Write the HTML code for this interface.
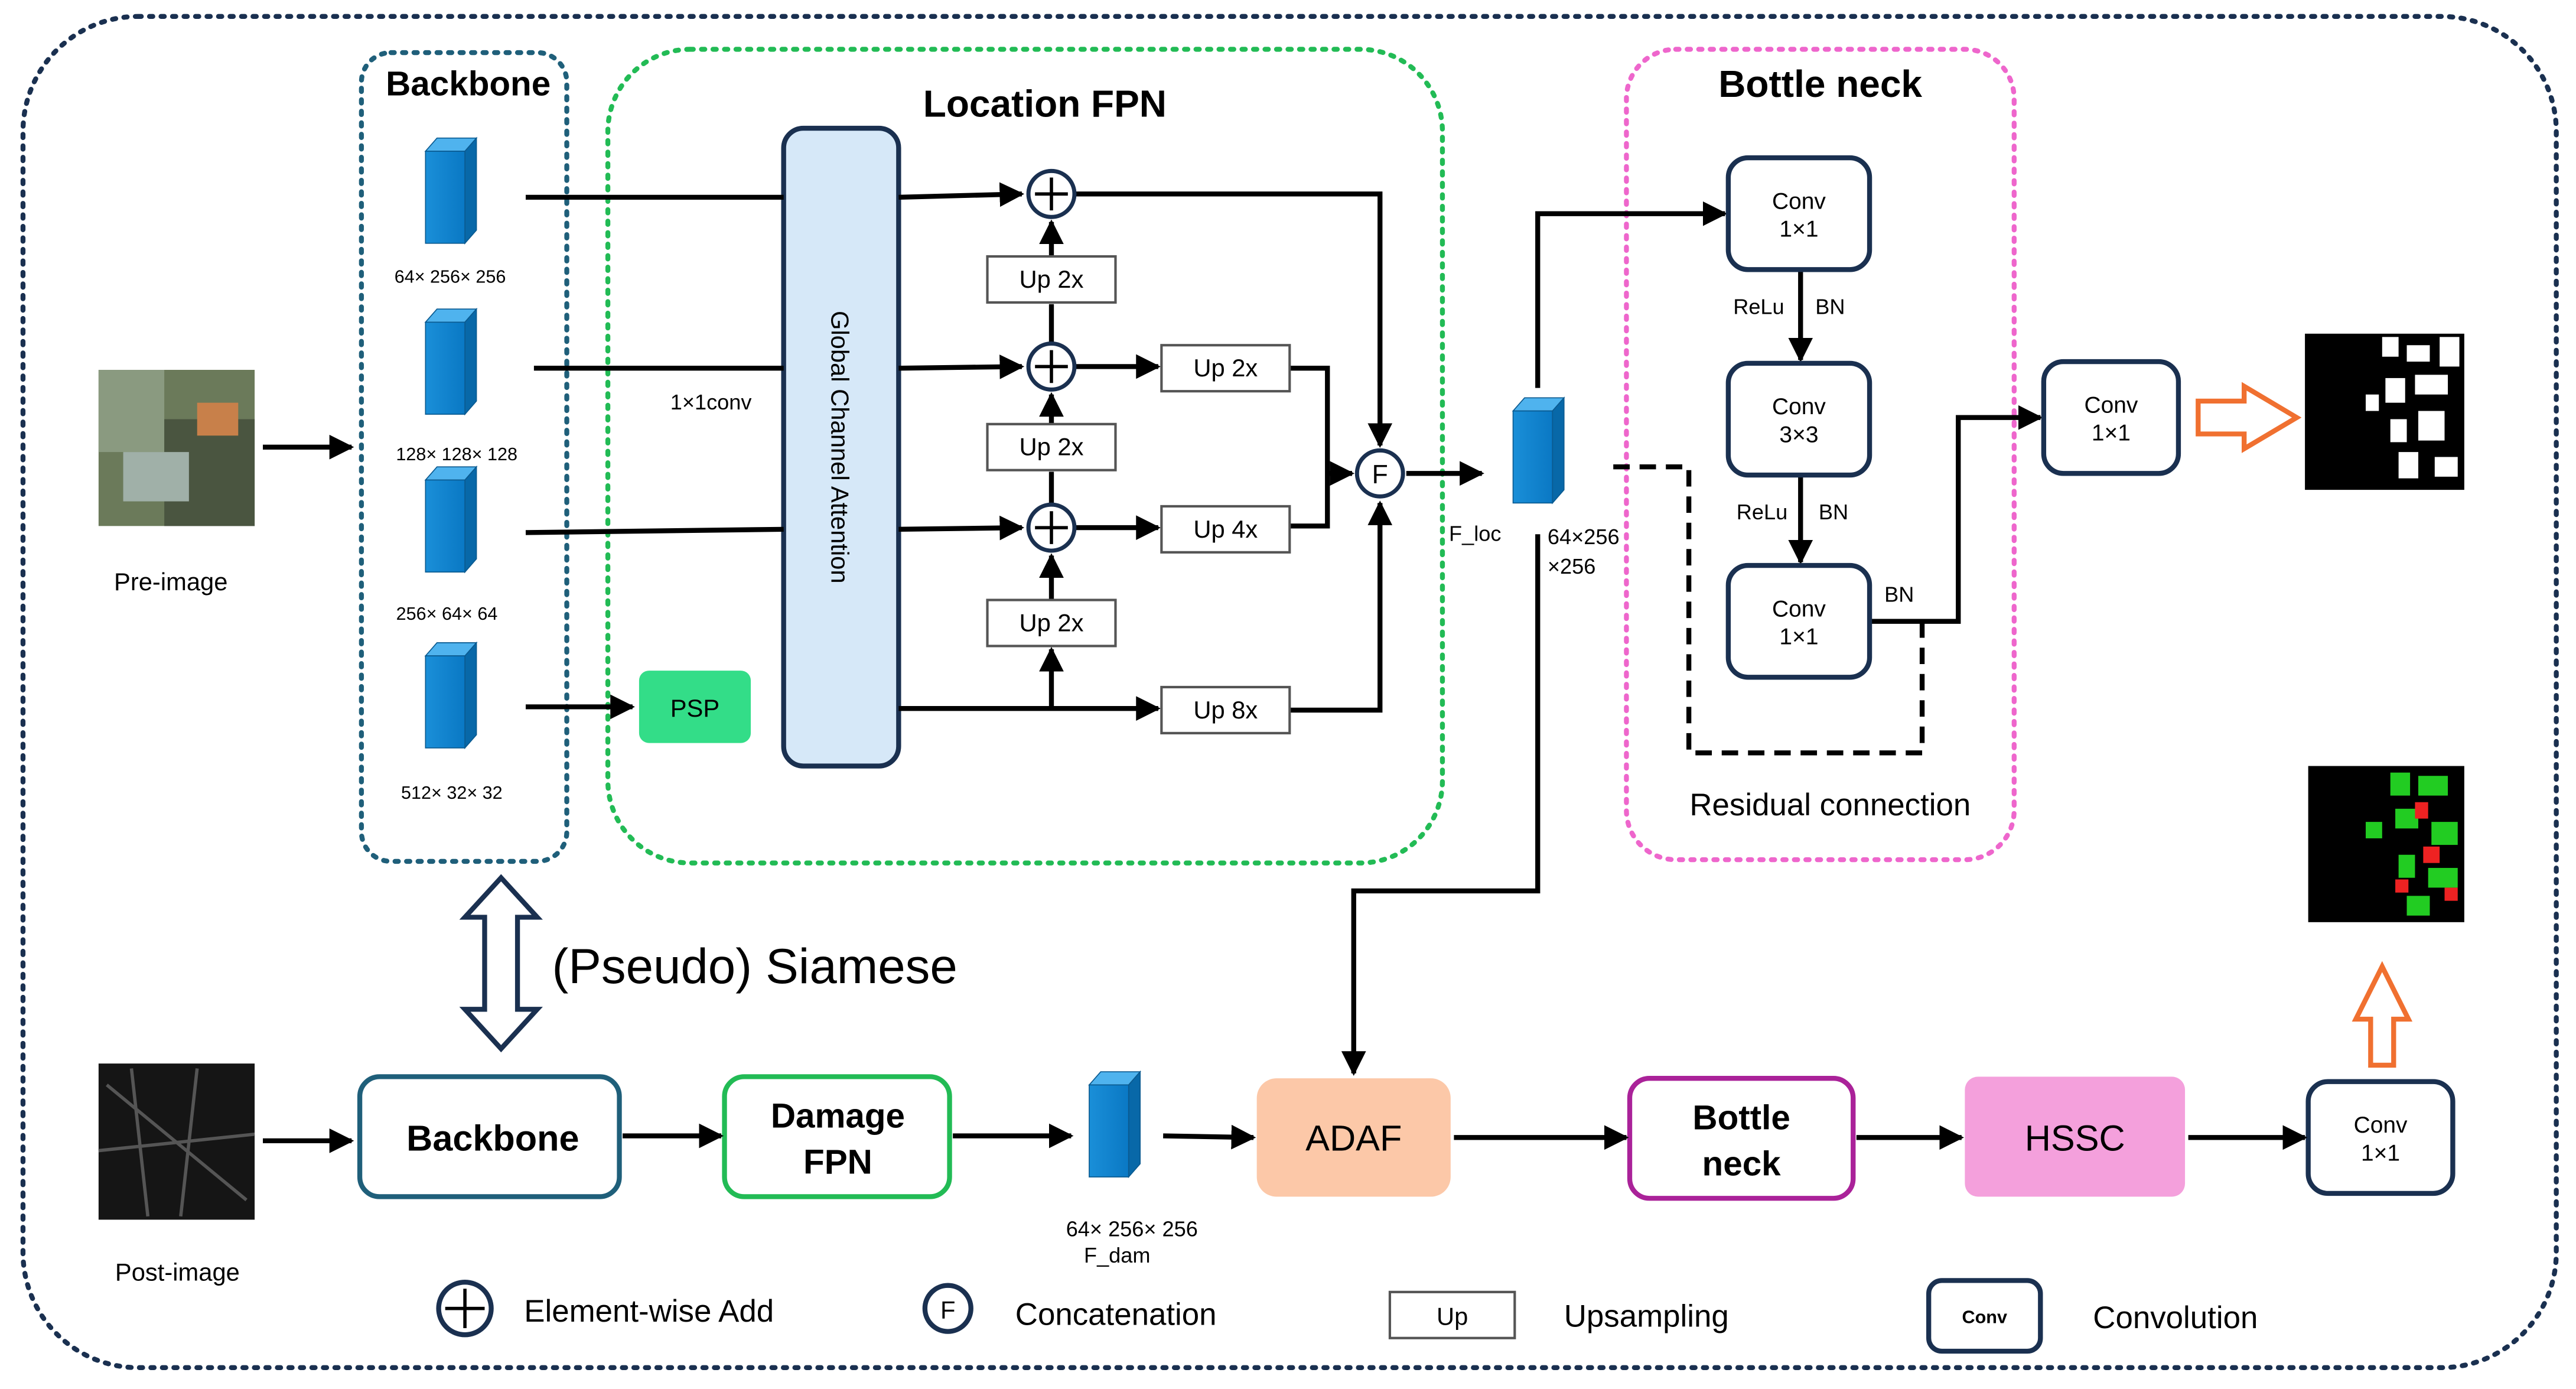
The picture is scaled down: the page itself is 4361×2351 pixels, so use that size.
<!DOCTYPE html>
<html><head><meta charset="utf-8"><style>html,body{margin:0;padding:0;background:#fff}svg{display:block}</style></head><body>
<svg width="4361" height="2351" viewBox="0 0 1568 845" preserveAspectRatio="none" xmlns="http://www.w3.org/2000/svg" font-family="Liberation Sans, sans-serif">
<defs>
<marker id="a" viewBox="0 0 10 10" refX="9" refY="5" markerWidth="5" markerHeight="5" orient="auto"><path d="M0,0L10,5L0,10z" fill="#000"/></marker>
<linearGradient id="cb" x1="0" x2="1"><stop offset="0" stop-color="#1a8fd8"/><stop offset="1" stop-color="#0a78c4"/></linearGradient>
</defs>
<rect width="1568" height="845" fill="#fff"/>
<rect x="14" y="10" width="1542" height="822" rx="70" fill="none" stroke="#1a3050" stroke-width="3" stroke-dasharray="2 5" stroke-linecap="round"/>
<rect x="220" y="32" width="125" height="492" rx="18" fill="none" stroke="#1f5f7a" stroke-width="3" stroke-dasharray="2 5" stroke-linecap="round"/>
<rect x="370" y="30" width="508" height="495" rx="50" fill="none" stroke="#22bb55" stroke-width="3" stroke-dasharray="2 5" stroke-linecap="round"/>
<rect x="990" y="30" width="236" height="493" rx="30" fill="none" stroke="#ee66cc" stroke-width="3" stroke-dasharray="2 5" stroke-linecap="round"/>
<text x="285" y="58" font-size="21" font-weight="bold" text-anchor="middle">Backbone</text>
<text x="636" y="71" font-size="23" font-weight="bold" text-anchor="middle">Location  FPN</text>
<text x="1108" y="59" font-size="23" font-weight="bold" text-anchor="middle">Bottle neck</text>
<!-- cubes -->
<g stroke="#0a5a90" stroke-width="0.6">
<g id="c1"><path d="M259,92 L283,92 L290,84 L266,84z" fill="#4fb3ee"/><path d="M283,92 L290,84 L290,140 L283,148z" fill="#0868a8"/><rect x="259" y="92" width="24" height="56" fill="url(#cb)"/></g>
<use href="#c1" y="104"/><use href="#c1" y="200"/><use href="#c1" y="307"/>
<g transform="translate(404,568)"><use href="#c1"/></g>
<g transform="translate(662,158)"><path d="M259,92 L283,92 L290,84 L266,84z" fill="#4fb3ee"/><path d="M283,92 L290,84 L290,140 L283,148z" fill="#0868a8"/><rect x="259" y="92" width="24" height="56" fill="url(#cb)"/></g>
</g>
<g font-size="11" text-anchor="middle">
<text x="274" y="172">64× 256× 256</text>
<text x="278" y="280">128× 128× 128</text>
<text x="272" y="377">256× 64× 64</text>
<text x="275" y="486">512× 32× 32</text>
</g>
<!-- pre image -->
<rect x="60" y="225" width="95" height="95" fill="#6b7a5a"/>
<rect x="60" y="225" width="40" height="50" fill="#8a9a80"/>
<rect x="100" y="255" width="55" height="65" fill="#4a5540"/>
<rect x="120" y="245" width="25" height="20" fill="#c8804a"/>
<rect x="75" y="275" width="40" height="30" fill="#a0b0a8"/>
<text x="104" y="359" font-size="15" text-anchor="middle">Pre-image</text>
<line x1="160" y1="272" x2="214" y2="272" stroke="#000" stroke-width="3" marker-end="url(#a)"/>
<!-- post image -->
<rect x="60" y="647" width="95" height="95" fill="#151515"/>
<path d="M65,660 L150,730 M80,650 L90,740 M120,650 L110,740 M60,700 L155,690" stroke="#555" stroke-width="2"/>
<text x="108" y="779" font-size="15" text-anchor="middle">Post-image</text>
<line x1="160" y1="694" x2="214" y2="694" stroke="#000" stroke-width="3" marker-end="url(#a)"/>
<!-- GCA -->
<rect x="477" y="78" width="70" height="388" rx="12" fill="#d6e8f8" stroke="#1a3050" stroke-width="3"/>
<text transform="translate(506,272) rotate(90)" font-size="15" text-anchor="middle">Global Channel Attention</text>
<rect x="389" y="408" width="68" height="44" rx="6" fill="#33dd88"/>
<text x="423" y="436" font-size="15" text-anchor="middle">PSP</text>
<g stroke="#000" stroke-width="3" fill="none">
<line x1="320" y1="120" x2="477" y2="120"/>
<line x1="325" y1="224" x2="477" y2="224"/>
<line x1="320" y1="324" x2="477" y2="322"/>
<line x1="320" y1="430" x2="385" y2="430" marker-end="url(#a)"/>
<line x1="547" y1="120" x2="622" y2="118" marker-end="url(#a)"/>
<line x1="547" y1="224" x2="622" y2="223" marker-end="url(#a)"/>
<line x1="547" y1="322" x2="622" y2="321" marker-end="url(#a)"/>
<line x1="547" y1="431" x2="705" y2="431" marker-end="url(#a)"/>
<line x1="640" y1="431" x2="640" y2="395" marker-end="url(#a)"/>
<line x1="640" y1="365" x2="640" y2="338" marker-end="url(#a)"/>
<line x1="640" y1="307" x2="640" y2="287" />
<line x1="640" y1="258" x2="640" y2="240" marker-end="url(#a)"/>
<line x1="640" y1="209" x2="640" y2="185"/>
<line x1="640" y1="156" x2="640" y2="135" marker-end="url(#a)"/>
<line x1="654" y1="223" x2="705" y2="223" marker-end="url(#a)"/>
<line x1="654" y1="321" x2="705" y2="321" marker-end="url(#a)"/>
<polyline points="654,118 840,118 840,271" marker-end="url(#a)"/>
<polyline points="785,224 808,224 808,320 785,320"/>
<line x1="808" y1="288" x2="823" y2="288" marker-end="url(#a)"/>
<polyline points="785,432 840,432 840,306" marker-end="url(#a)"/>
<line x1="856" y1="288" x2="902" y2="288" marker-end="url(#a)"/>
</g>
<g fill="#fff" stroke="#1a3050" stroke-width="2.5">
<circle cx="640" cy="118" r="14"/><circle cx="640" cy="223" r="14"/><circle cx="640" cy="321" r="14"/><circle cx="840" cy="288" r="14"/>
</g>
<g stroke="#000" stroke-width="2"><path d="M630,118h20M640,108v20M630,223h20M640,213v20M630,321h20M640,311v20"/></g>
<text x="840" y="294" font-size="16" text-anchor="middle">F</text>
<g fill="#fff" stroke="#555" stroke-width="1.5">
<rect x="601" y="156" width="78" height="28"/><rect x="601" y="258" width="78" height="28"/><rect x="601" y="365" width="78" height="28"/>
<rect x="707" y="210" width="78" height="28"/><rect x="707" y="308" width="78" height="28"/><rect x="707" y="418" width="78" height="28"/>
</g>
<g font-size="15" text-anchor="middle">
<text x="640" y="175">Up 2x</text><text x="640" y="277">Up 2x</text><text x="640" y="384">Up 2x</text>
<text x="746" y="229">Up 2x</text><text x="746" y="327">Up 4x</text><text x="746" y="437">Up 8x</text>
</g>
<text x="408" y="249" font-size="13">1×1conv</text>
<text x="882" y="329" font-size="13">F_loc</text>
<text x="942" y="331" font-size="13">64×256</text>
<text x="942" y="349" font-size="13">×256</text>
<!-- bottleneck -->
<g stroke="#000" stroke-width="3" fill="none">
<polyline points="936,236 936,130 1050,130" marker-end="url(#a)"/>
<line x1="1096" y1="164" x2="1096" y2="219" marker-end="url(#a)"/>
<line x1="1096" y1="289" x2="1096" y2="342" marker-end="url(#a)"/>
<polyline points="1138,378 1192,378 1192,254 1242,254" marker-end="url(#a)"/>
<polyline points="936,325 936,542 824,542 824,653" marker-end="url(#a)"/>
<polyline points="982,284 1028,284 1028,458 1170,458 1170,378" stroke-dasharray="10 6"/>
</g>
<g fill="#fff" stroke="#1a3050" stroke-width="3">
<rect x="1052" y="96" width="86" height="68" rx="12"/><rect x="1052" y="221" width="86" height="68" rx="12"/><rect x="1052" y="344" width="86" height="68" rx="12"/>
<rect x="1244" y="220" width="82" height="68" rx="12"/><rect x="1405" y="658" width="88" height="68" rx="12"/>
</g>
<g font-size="14" text-anchor="middle">
<text x="1095" y="127">Conv</text><text x="1095" y="144">1×1</text>
<text x="1095" y="252">Conv</text><text x="1095" y="269">3×3</text>
<text x="1095" y="375">Conv</text><text x="1095" y="392">1×1</text>
<text x="1285" y="251">Conv</text><text x="1285" y="268">1×1</text>
<text x="1449" y="689">Conv</text><text x="1449" y="706">1×1</text>
</g>
<g font-size="13">
<text x="1055" y="191">ReLu</text><text x="1105" y="191">BN</text>
<text x="1057" y="316">ReLu</text><text x="1107" y="316">BN</text>
<text x="1147" y="366">BN</text>
</g>
<text x="1114" y="496" font-size="19" text-anchor="middle">Residual connection</text>
<!-- outputs -->
<path d="M1338,244 h28 v-9 l32,19 l-32,19 v-9 h-28z" fill="#fff" stroke="#f07030" stroke-width="3"/>
<rect x="1403" y="203" width="97" height="95" fill="#000"/>
<g fill="#fff"><rect x="1450" y="205" width="10" height="12"/><rect x="1465" y="210" width="14" height="10"/><rect x="1485" y="205" width="12" height="18"/><rect x="1452" y="230" width="12" height="15"/><rect x="1470" y="228" width="20" height="12"/><rect x="1455" y="255" width="10" height="14"/><rect x="1472" y="250" width="16" height="18"/><rect x="1460" y="275" width="12" height="16"/><rect x="1482" y="278" width="14" height="12"/><rect x="1440" y="240" width="8" height="10"/></g>
<rect x="1405" y="466" width="95" height="95" fill="#000"/>
<g fill="#22cc22"><rect x="1455" y="470" width="12" height="14"/><rect x="1472" y="472" width="18" height="12"/><rect x="1458" y="492" width="14" height="12"/><rect x="1480" y="500" width="16" height="14"/><rect x="1460" y="520" width="10" height="14"/><rect x="1478" y="528" width="18" height="12"/><rect x="1465" y="545" width="14" height="12"/><rect x="1440" y="500" width="10" height="10"/></g>
<g fill="#ee2222"><rect x="1470" y="488" width="8" height="10"/><rect x="1475" y="515" width="10" height="10"/><rect x="1458" y="535" width="8" height="8"/><rect x="1488" y="540" width="8" height="8"/></g>
<path d="M1443,648 v-28 h-9 l16,-32 l16,32 h-9 v28z" fill="#fff" stroke="#f07030" stroke-width="3"/>
<!-- siamese -->
<path d="M305,534 l-22,24 h12 v56 h-12 l22,24 l22,-24 h-12 v-56 h12z" fill="#fff" stroke="#1a3050" stroke-width="3"/>
<text x="336" y="598" font-size="30">(Pseudo) Siamese</text>
<!-- bottom row -->
<rect x="219" y="655" width="158" height="73" rx="12" fill="#fff" stroke="#1f5f7a" stroke-width="3"/>
<text x="300" y="700" font-size="22" font-weight="bold" text-anchor="middle">Backbone</text>
<rect x="441" y="655" width="137" height="73" rx="12" fill="#fff" stroke="#22bb55" stroke-width="3"/>
<text x="510" y="686" font-size="21" font-weight="bold" text-anchor="middle">Damage</text>
<text x="510" y="714" font-size="21" font-weight="bold" text-anchor="middle">FPN</text>
<text x="689" y="752" font-size="13" text-anchor="middle">64× 256× 256</text>
<text x="680" y="768" font-size="13" text-anchor="middle">F_dam</text>
<rect x="765" y="656" width="118" height="72" rx="12" fill="#fcc8a8"/>
<text x="824" y="700" font-size="22" text-anchor="middle">ADAF</text>
<rect x="992" y="656" width="136" height="73" rx="12" fill="#fff" stroke="#aa2299" stroke-width="3"/>
<text x="1060" y="687" font-size="21" font-weight="bold" text-anchor="middle">Bottle</text>
<text x="1060" y="715" font-size="21" font-weight="bold" text-anchor="middle">neck</text>
<rect x="1196" y="655" width="134" height="73" rx="8" fill="#f4a0dc"/>
<text x="1263" y="700" font-size="22" text-anchor="middle">HSSC</text>
<g stroke="#000" stroke-width="3">
<line x1="379" y1="691" x2="439" y2="691" marker-end="url(#a)"/>
<line x1="580" y1="691" x2="652" y2="691" marker-end="url(#a)"/>
<line x1="708" y1="691" x2="763" y2="692" marker-end="url(#a)"/>
<line x1="885" y1="692" x2="990" y2="692" marker-end="url(#a)"/>
<line x1="1130" y1="692" x2="1194" y2="692" marker-end="url(#a)"/>
<line x1="1332" y1="692" x2="1403" y2="692" marker-end="url(#a)"/>
</g>
<!-- legend -->
<circle cx="283" cy="796" r="16" fill="#fff" stroke="#1a3050" stroke-width="3"/>
<path d="M271,796h24M283,784v24" stroke="#000" stroke-width="2"/>
<text x="319" y="804" font-size="19">Element-wise Add</text>
<circle cx="577" cy="796" r="14" fill="#fff" stroke="#1a3050" stroke-width="3"/>
<text x="577" y="802" font-size="15" text-anchor="middle">F</text>
<text x="618" y="806" font-size="19">Concatenation</text>
<rect x="846" y="786" width="76" height="28" fill="#fff" stroke="#555" stroke-width="1.5"/>
<text x="884" y="806" font-size="15" text-anchor="middle">Up</text>
<text x="952" y="807" font-size="19">Upsampling</text>
<rect x="1174" y="779" width="68" height="43" rx="8" fill="#fff" stroke="#1a3050" stroke-width="3"/>
<text x="1208" y="805" font-size="11" font-weight="bold" text-anchor="middle">Conv</text>
<text x="1274" y="808" font-size="19">Convolution</text>
</svg>
</body></html>
